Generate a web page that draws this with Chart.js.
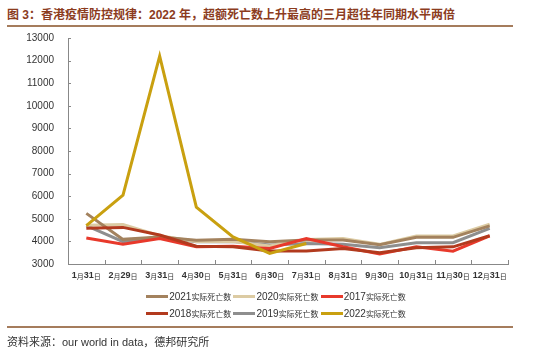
<!DOCTYPE html>
<html><head><meta charset="utf-8">
<script src="https://cdn.jsdelivr.net/npm/chart.js@4"></script>
<style>
html,body{margin:0;padding:0;background:#fff;width:554px;height:356px;overflow:hidden;font-family:"Liberation Sans","Noto Sans CJK SC",sans-serif;}
#title{position:absolute;left:7px;top:5px;font-size:12px;font-weight:bold;color:#8c3c1e;white-space:nowrap;font-family:"Liberation Sans","Noto Sans CJK SC",sans-serif;}
.rule{position:absolute;left:7px;width:506px;height:2px;background:#a57c5c;}
#wrap{position:absolute;left:0;top:0;width:554px;height:290px;}
#legend{position:absolute;left:0;top:288px;width:554px;}
.row{display:flex;justify-content:center;height:17px;align-items:center;}
.item{display:flex;align-items:center;font-size:10px;color:#333;white-space:nowrap;}
.sw{width:22px;height:3px;margin-right:1px;}
.item .t{margin-right:2px;}
.item .c{font-size:8px;font-family:"Noto Sans CJK SC",sans-serif;}
#src{position:absolute;left:7px;top:333px;font-size:11px;color:#333;white-space:nowrap;}
</style></head>
<body>
<div id="title">图 3：香港疫情防控规律：2022 年，超额死亡数上升最高的三月超往年同期水平两倍</div>
<div class="rule" style="top:25px"></div>
<div id="wrap"><canvas id="c"></canvas></div>
<div id="legend"></div>
<div class="rule" style="top:326px"></div>
<div id="src">资料来源：our world in data，德邦研究所</div>
<script>
const categories = ['1月31日','2月29日','3月31日','4月30日','5月31日','6月30日','7月31日','8月31日','9月30日','10月31日','11月30日','12月31日'];
const seriesNames = ['2021实际死亡数','2020实际死亡数','2017实际死亡数','2018实际死亡数','2019实际死亡数','2022实际死亡数'];
const d2021 = [5240,4090,4200,4050,4090,3985,4060,4060,3850,4180,4180,4690];
const d2020 = [4720,4750,4250,4000,4000,3800,4080,4130,3870,4240,4240,4760];
const d2017 = [4150,3880,4130,3760,3790,3690,4130,3760,3440,3760,3570,4240];
const d2018 = [4580,4620,4280,3790,3760,3570,3575,3690,3500,3720,3760,4250];
const d2019 = [4700,3990,4200,3990,4000,3840,3910,3870,3720,3940,3940,4580];
const d2022 = [4700,6050,12200,5520,4200,3470,3910,null,null,null,null,null];
const yTicks = [3000,4000,5000,6000,7000,8000,9000,10000,11000,12000,13000];
const colors = ['#a3825e','#dccba3','#e8392b','#b23a1e','#8e8e8e','#c9a010'];
const allData = [d2021,d2020,d2017,d2018,d2019,d2022];

const datasets = allData.map((d,i)=>({label:seriesNames[i],data:d,borderColor:colors[i],backgroundColor:colors[i],borderWidth:3,pointRadius:0,tension:0,fill:false,spanGaps:false}));
datasets.forEach((ds,i)=>{ds.order = [3,4,2,1,5,0][i];});

const innerTicks = {
  id:'innerTicks',
  afterDraw(chart){
    const ctx=chart.ctx, x=chart.scales.x, y=chart.scales.y, a=chart.chartArea;
    ctx.save(); ctx.strokeStyle='#888'; ctx.lineWidth=1;
    const step=(a.right-a.left)/categories.length;
    for(let i=0;i<=categories.length;i++){
      const px=Math.round(a.left+i*step)+0.5;
      ctx.beginPath(); ctx.moveTo(px,a.bottom); ctx.lineTo(px,a.bottom-4); ctx.stroke();
    }
    yTicks.forEach(v=>{const py=Math.round(y.getPixelForValue(v))+0.5; ctx.beginPath(); ctx.moveTo(a.left,py); ctx.lineTo(a.left+3,py); ctx.stroke();});
    // category labels: digits larger, CJK smaller
    const dFont='bold 9px "Liberation Sans"', cFont='7px "Noto Sans CJK SC"';
    ctx.fillStyle='#333'; ctx.textBaseline='middle';
    categories.forEach((lab,i)=>{
      const parts=lab.match(/(\d+|[^\d]+)/g);
      let w=0; const ws=parts.map(p=>{ctx.font=/\d/.test(p)?dFont:cFont; const m=ctx.measureText(p).width; w+=m; return m;});
      let cx=x.getPixelForValue(i)-w/2;
      parts.forEach((p,k)=>{ctx.font=/\d/.test(p)?dFont:cFont; ctx.textAlign='left'; ctx.fillText(p,cx,a.bottom+12); cx+=ws[k];});
    });
    ctx.restore();
  }
};

new Chart(document.getElementById('c'),{
  type:'line',
  data:{labels:categories,datasets:datasets},
  options:{
    responsive:true,maintainAspectRatio:false,animation:false,
    layout:{padding:{top:38,right:46,left:0,bottom:4}},
    plugins:{legend:{display:false},tooltip:{enabled:false}},
    scales:{
      x:{offset:true,grid:{display:false},border:{display:true,color:'#888',width:1},
         ticks:{display:false},
         afterFit(s){s.height=22;}},
      y:{min:3000,max:13000,grid:{display:false},border:{display:true,color:'#888',width:1},
         afterBuildTicks(s){s.ticks=yTicks.map(v=>({value:v}));},
         ticks:{color:'#333',font:{size:10,family:'"Liberation Sans"'},padding:6,callback:v=>String(v)},
         afterFit(s){s.width=68;}}
    }
  },
  plugins:[innerTicks]
});

const leg=document.getElementById('legend');
[[0,1,2],[3,4,5]].forEach(r=>{
  const row=document.createElement('div'); row.className='row';
  r.forEach(i=>{
    const it=document.createElement('div'); it.className='item';
    const yr=seriesNames[i].slice(0,4), rest=seriesNames[i].slice(4);
    it.innerHTML='<div class="sw" style="background:'+colors[i]+'"></div><span class="t">'+yr+'<span class="c">'+rest+'</span></span>';
    row.appendChild(it);
  });
  leg.appendChild(row);
});
</script>
</body></html>
